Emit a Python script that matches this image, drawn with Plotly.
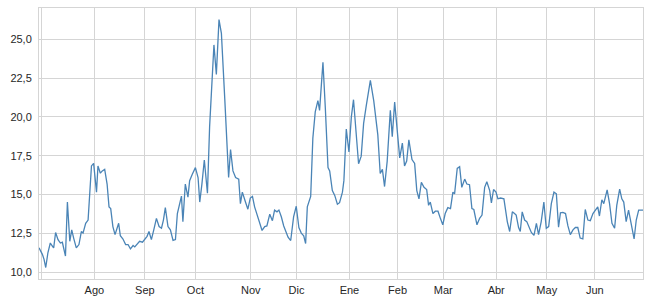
import plotly.graph_objects as go

# trading-day position (0 = first trading day shown) and index level
day = [0, 1.4, 2.1, 2.8, 3.7, 4.7, 5.6, 6.1, 6.9, 7.9, 8.9, 9.7, 11.0, 11.8, 12.8, 13.6, 14.4, 15.5, 16.6, 17.6,
       18.3, 19.4, 20.4, 21.8, 22.7, 23.9, 24.5, 25.5, 26.3, 27.3, 28.3, 29.1, 29.8, 30.7, 31.6, 32.2, 33.1, 33.8, 34.9, 36.0,
       37.0, 38.0, 39.1, 39.8, 40.7, 41.8, 43.0, 43.9, 44.9, 45.7, 46.7, 47.7, 48.8, 49.9, 50.9, 51.7, 52.5, 53.6, 54.6, 55.7,
       56.7, 57.5, 58.2, 59.2, 59.8, 60.8, 61.9, 62.6, 63.7, 65.0, 66.1, 66.8, 67.7, 68.7, 70.0, 70.9, 72.7, 73.7, 74.8, 75.8,
       77.2, 78.8, 79.6, 80.6, 81.7, 83.0, 83.7, 84.5, 85.8, 86.8, 87.8, 88.7, 89.6, 91.0, 92.7, 93.8, 94.7, 95.9, 97.0, 97.9,
       98.9, 99.7, 100.7, 101.7, 102.5, 103.5, 104.6, 105.8, 106.9, 108.0, 109.0, 110.0, 110.8, 111.5, 112.9, 113.8, 114.8, 115.9, 116.6, 118.0,
       119.0, 120.1, 120.8, 121.9, 122.9, 124.0, 124.9, 126.1, 126.7, 127.7, 128.8, 129.8, 130.7, 131.9, 132.8, 133.9, 134.9, 136.0, 137.7, 139.1,
       140.8, 141.8, 142.7, 143.6, 144.7, 146.0, 146.8, 147.8, 148.7, 149.9, 151.0, 151.9, 152.8, 153.7, 155.0, 156.1, 157.0, 157.9, 158.9, 160.0,
       161.1, 161.9, 162.6, 163.7, 164.7, 165.8, 166.8, 167.8, 168.8, 169.9, 171.0, 172.0, 172.7, 173.8, 174.8, 175.7, 176.9, 177.8, 178.9, 179.9,
       180.7, 182.0, 183.1, 184.1, 185.2, 186.1, 187.3, 188.0, 188.9, 189.9, 190.7, 191.8, 193.2, 194.6, 195.6, 196.7, 197.6, 198.3, 199.3, 200.0,
       200.8, 201.8, 202.7, 203.6, 204.6, 205.7, 206.7, 207.6, 208.7, 209.8, 210.8, 211.8, 212.9, 214.0, 215.0, 215.9, 216.7, 217.7, 218.8, 219.8,
       220.8, 221.9, 222.9, 223.9, 224.9, 226.0, 227.0, 228.1, 229.1, 230.2, 231.3, 232.2, 232.9, 233.9, 234.7, 236.1, 237.1, 238.1, 239.2, 240.1,
       241.3, 242.2, 243.0, 244.0, 245.0, 246.1, 247.3, 248.2, 249.2, 250.0, 251.0]
level = [11.56, 11.14, 10.82, 10.29, 11.24, 11.87, 11.66, 11.56, 12.55, 12.09, 11.87, 11.92, 11.03, 14.51, 11.98, 12.72, 12.19, 11.56, 11.77, 12.61,
         12.51, 13.14, 13.35, 16.84, 17.00, 15.15, 16.84, 16.37, 16.52, 16.62, 15.67, 14.20, 14.09, 12.93, 12.41, 12.72, 13.14, 12.34, 12.13, 11.77,
         11.77, 11.49, 11.71, 11.62, 11.77, 11.98, 11.92, 12.13, 12.30, 12.61, 12.09, 12.72, 13.46, 12.93, 12.82, 13.35, 14.15, 12.93, 12.72, 12.04,
         12.09, 13.77, 14.30, 14.89, 13.25, 15.67, 14.83, 15.89, 16.30, 16.73, 16.09, 14.51, 15.67, 17.22, 15.08, 19.37, 24.64, 22.74, 26.27, 25.38,
         21.16, 16.09, 17.89, 16.52, 16.09, 15.99, 14.41, 15.15, 14.51, 14.05, 14.77, 14.87, 14.20, 13.56, 12.68, 12.93, 12.97, 13.73, 13.31, 13.99,
         13.88, 13.99, 13.56, 12.97, 12.61, 12.25, 12.03, 13.56, 14.24, 12.87, 12.51, 12.34, 11.84, 14.20, 14.87, 18.63, 20.32, 21.05, 20.42, 23.52,
         20.53, 16.73, 16.52, 15.25, 14.94, 14.37, 14.47, 15.15, 15.89, 19.22, 17.74, 20.00, 21.11, 18.63, 16.98, 17.47, 19.58, 20.73, 22.36, 21.05,
         18.84, 16.35, 16.62, 15.51, 17.15, 20.42, 18.73, 20.95, 19.47, 17.36, 18.31, 16.84, 17.15, 18.52, 17.25, 17.00, 15.25, 14.72, 15.78, 15.46,
         15.32, 14.30, 14.51, 13.77, 13.92, 13.92, 13.46, 13.04, 13.77, 14.15, 14.09, 15.15, 15.04, 16.68, 16.79, 15.46, 15.99, 15.67, 15.63, 14.09,
         14.03, 13.04, 13.46, 13.67, 15.46, 15.82, 15.25, 14.45, 15.32, 15.15, 14.72, 14.77, 14.72, 13.25, 12.61, 13.88, 13.77, 13.67, 12.87, 12.61,
         13.88, 13.35, 13.25, 12.93, 12.55, 12.36, 13.14, 12.41, 13.25, 14.51, 12.82, 12.93, 14.41, 15.15, 15.04, 12.89, 13.82, 13.84, 13.77, 12.97,
         12.41, 12.72, 12.87, 12.87, 12.19, 12.13, 14.03, 13.35, 13.31, 13.77, 13.99, 14.20, 13.61, 14.66, 14.41, 15.29, 14.41, 13.14, 12.82, 14.30,
         15.35, 14.72, 14.51, 13.25, 13.99, 13.04, 12.13, 13.35, 13.99, 13.99, 13.99]

# month starts (trading-day positions) and labels
month_pos = [1, 23, 44, 65, 88, 107, 129, 149, 168, 190, 211, 231]
month_lab = ["", "Ago", "Sep", "Oct", "Nov", "Dic", "Ene", "Feb", "Mar", "Abr", "May", "Jun"]
y_ticks = [10.0, 12.5, 15.0, 17.5, 20.0, 22.5, 25.0]
y_labels = ["10,0", "12,5", "15,0", "17,5", "20,0", "22,5", "25,0"]

fig = go.Figure()
fig.add_trace(go.Scatter(x=day, y=level, mode="lines",
                         line=dict(color="#4a84b6", width=1.3), showlegend=False))

grid = "#d5d5d5"
fig.update_layout(
    width=652, height=303,
    margin=dict(l=39, r=9, t=7, b=20),
    paper_bgcolor="white", plot_bgcolor="white",
    font=dict(family="Liberation Sans, Arial, sans-serif", size=11, color="#262626"),
)
fig.update_xaxes(range=[0, 251], tickvals=month_pos, ticktext=month_lab,
                 showgrid=True, gridcolor=grid, gridwidth=1,
                 showline=True, linecolor=grid, linewidth=1, mirror=True,
                 zeroline=False, ticks="", ticklabelstandoff=1)
fig.update_yaxes(range=[9.55, 27.02], tickvals=y_ticks, ticktext=y_labels,
                 showgrid=True, gridcolor=grid, gridwidth=1,
                 showline=True, linecolor=grid, linewidth=1, mirror=True,
                 zeroline=False, ticks="", ticklabelstandoff=4)

fig.write_html("out.html")
